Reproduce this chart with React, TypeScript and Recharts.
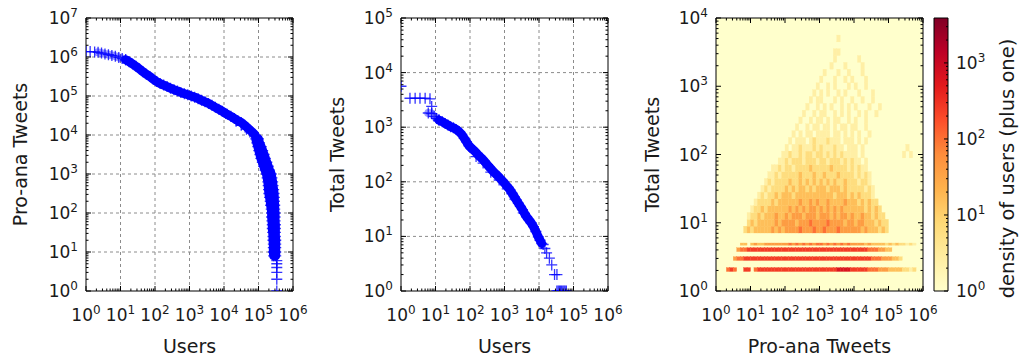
import React from "react";
import { ScatterChart, Scatter, XAxis, YAxis, CartesianGrid, ReferenceArea } from "recharts";

const FONT = "'DejaVu Sans', 'Liberation Sans', sans-serif";
const INK = "#1a1a1a";
const BLUE = "#0000ff";
const PLOT_W = 207;
const PLOT_H = 273;
const TITLE_SIZE = 19;

// ---------- left panel: users (ranked) vs pro-ana tweets ----------
const proAnaHead: [number, number][] = [[1, 1.38e6], [1.32, 1.38e6], [1.78, 1.35e6]];
// sparse start of the band, markers still see-through
const proAnaEarly: [number, number][] = [
    [2.24, 1.32e6], [2.82, 1.26e6], [3.55, 1.2e6], [4.47, 1.15e6], [5.62, 1.1e6],
    [7.08, 1.05e6], [8.91, 9.77e5], [11.2, 9.12e5], [14.1, 8.51e5],
];
const proAnaCurve: [number, number][] = [
    [14.1, 8.51e5], [17.8, 7.59e5],
    [22.4, 6.61e5], [28.2, 5.75e5], [35.5, 4.9e5], [44.7, 4.17e5], [56.2, 3.63e5],
    [70.8, 3.16e5], [89.1, 2.69e5], [112, 2.34e5], [141, 2.09e5], [178, 1.91e5],
    [224, 1.74e5], [282, 1.58e5], [355, 1.45e5], [447, 1.35e5], [562, 1.23e5],
    [708, 1.15e5], [891, 1.07e5], [1120, 1e5], [1410, 9.33e4], [1780, 8.51e4],
    [2240, 7.76e4], [2820, 7.08e4], [3550, 6.46e4], [4470, 5.75e4], [5620, 5.13e4],
    [7080, 4.57e4], [8910, 4.07e4], [11200, 3.55e4], [12600, 3.39e4], [15800, 3.02e4],
    [20000, 2.63e4], [25100, 2.34e4], [31600, 2.09e4], [39800, 1.78e4], [50100, 1.48e4],
    [63100, 1.23e4], [79400, 1e4],
];
const proAnaKneeSpread: [number, number][] = [
    [22400, 2.24e4], [31600, 1.78e4], [44700, 1.41e4], [56200, 1.2e4],
];
// steep tail: tweet level and the range of ranks the band covers there
const proAnaTailTweets = [7940, 6310, 5010, 3980, 3160, 2510, 2000, 1580, 1260, 1000, 794, 631, 501, 398, 316, 251, 200, 158, 126, 100, 79, 63, 50, 40, 32, 25, 20, 16, 13, 10, 8];
const proAnaTailRankLo = [83200, 89100, 95500, 102000, 110000, 117000, 129000, 141000, 155000, 170000, 178000, 186000, 191000, 195000, 200000, 209000, 219000, 224000, 234000, 240000, 240000, 245000, 251000, 251000, 257000, 263000, 263000, 269000, 269000, 269000, 275000];
const proAnaTailRankHi = [100000, 107000, 120000, 132000, 145000, 158000, 174000, 191000, 209000, 234000, 245000, 257000, 263000, 275000, 282000, 288000, 288000, 295000, 295000, 302000, 302000, 302000, 309000, 309000, 309000, 309000, 316000, 316000, 316000, 316000, 316000];
const proAnaLowest: [number, number][] = [
    [339000, 6], [339000, 5], [339000, 4], [339000, 3], [339000, 2], [339000, 1],
];

// ---------- middle panel: users (ranked) vs total tweets ----------
const totalHead: [number, number][] = [
    [1, 5620], [1.82, 3390], [2.57, 3390], [3.55, 3390], [5.01, 3390], [6.92, 3310], [7.76, 2400],
];
const totalEarly: [number, number][] = [
    [6.17, 1820], [7.76, 1780], [9.12, 1580], [10.7, 1450], [12.6, 1350],
];
const totalCurve: [number, number][] = [
    [12.6, 1350], [15.8, 1260],
    [19.1, 1170], [22.9, 1100], [27.5, 1020], [33.1, 977], [39.8, 912], [47.9, 832],
    [57.5, 741], [67.6, 631], [79.4, 537], [93.3, 457], [112, 407], [132, 372],
    [158, 331], [186, 295], [219, 269], [257, 240], [302, 214], [363, 186],
    [427, 166], [501, 148], [589, 135], [708, 120], [832, 107], [955, 97.7],
    [1100, 87.1], [1260, 79.4], [1450, 70.8], [1660, 61.7], [1910, 53.7], [2190, 46.8],
    [2510, 40.7], [2880, 35.5], [3310, 30.9], [3800, 26.3], [4370, 22.9], [5010, 20.4],
    [5890, 17.8], [6920, 15.1], [8130, 12.3], [9550, 9.77], [10700, 8.51], [12000, 7.41],
];
const totalSpread: [number, number][] = [
    [150, 290], [240, 220], [400, 150], [700, 108], [1200, 74], [2000, 48], [3500, 27],
];
const totalLowest: [number, number][] = [
    [13200, 7.1], [14800, 6], [16600, 5], [20000, 4], [23400, 3], [28200, 2], [33100, 2],
    [33000, 1], [36000, 1], [39000, 1], [42000, 1], [45000, 1], [49000, 1], [53000, 1], [57000, 1], [62000, 1],
];

// ---------- right panel: 2d histogram, pro-ana vs total tweets ----------
// columns are 0.1-decade bins of pro-ana tweets (10^0 .. 10^6, 60 bins)
// digit d = log10(users + 1) / 0.4, so 0 = empty, 9 = ~4000
const cloudRowStart = [8, 9, 9, 10, 11, 12, 13, 14, 15, 16, 18, 19, 20, 21, 22, 23, 24, 25, 26, 27, 28, 29, 30, 31, 33, 34, 34, 35, 35];
const cloudRowDensity = [
    "2323333 34343 4444544454 4544454444 44343 33232",
    "232333 33434 4443444544 4454444344 34433 32322",
    "122323 33433 4344434443 4443434434 33433 2322",
    "12232 33333 3434343443 4343434333 33323 232",
    "1222 23233 3333433434 3343333433 32323 22",
    "121 22323 3323333333 3333233323 23222 1",
    "12 12222 3232332323 3323332322 22212 1",
    "1 21222 2322323232 3232322322 21221",
    "11212 2222322232 2322232222 12121",
    "1121 2212222322 2223222212 1211",
    "11 2122212221 2212221212 1101",
    "1 1211212212 2121212111 101 00000000000 101",
    "1011211121 2111211011 101 000000000000 1",
    "101110121 1121110111 0101",
    "10101101 1110110101 01001",
    "1001011 0110101101 10010",
    "100101 1010110010 100100",
    "10010 1100101010 0101001",
    "1001 0101001010 10001001",
    "101 1000101001 0010010",
    "10 1010010100 010001",
    "1 0010100010 100100",
    "1000100101 00010",
    "100010010 0010",
    "1000100 0010",
    "1000000 1",
    "11",
    "",
    "1",
];
// cloud rows start at total = 10^0.85 and are 0.1 decade tall
const CLOUD_FIRST_ROW = 0.85;
// the thin bands of users with exactly 2, 3, 4, 5 total tweets
const stripeLow = [1.93, 2.8, 3.78, 4.68];
const stripeHigh = [2.2, 3.18, 4.3, 5.05];
const stripeStart = [3, 5, 6, 7];
const stripeDensity = [
    "565 00 66 0 566666666 6666666666 6666677776 66665554 44333 32212",
    "4 5566666 6666666 6666666666 6666666666 6666655 54443 32",
    "4556666 6666666 6666666666 6666666666 6666555 4433",
    "3303433 444444 4545454545 5454545454 4443433 3323232 2121",
];
const DENSITY_MAX = 3900;

// matplotlib YlOrRd
const YLORRD = ["#ffffcc", "#ffeda0", "#fed976", "#feb24c", "#fd8d3c", "#fc4e2a", "#e31a1c", "#bd0026", "#800026"];

function hex(c: string) {
    return [1, 3, 5].map((i) => parseInt(c.slice(i, i + 2), 16));
}
function ylorrd(t: number) {
    const s = Math.max(0, Math.min(1, t)) * 8;
    const i = Math.min(7, Math.floor(s));
    const f = s - i;
    const a = hex(YLORRD[i]);
    const b = hex(YLORRD[i + 1]);
    const m = a.map((v, k) => Math.round(v + (b[k] - v) * f));
    return `rgb(${m[0]},${m[1]},${m[2]})`;
}
const densityColor = (d: number) => ylorrd((d * 0.4) / Math.log10(DENSITY_MAX));

type Cell = { x: number; y: number; span: number; color: string };

function buildCells(): Cell[] {
    const out: Cell[] = [];
    const push = (start: number, row: string, yMid: number, span: number) => {
        [...row.replace(/ /g, "")].forEach((ch, k) => {
            const d = Number(ch);
            if (!d) return;
            const col = start + k;
            out.push({ x: 10 ** ((col + 0.5) / 10), y: yMid, span, color: densityColor(d) });
        });
    };
    cloudRowDensity.forEach((row, r) => {
        push(cloudRowStart[r], row, 10 ** (CLOUD_FIRST_ROW + 0.1 * r + 0.05), 0.1);
    });
    stripeDensity.forEach((row, i) => {
        push(stripeStart[i], row, Math.sqrt(stripeLow[i] * stripeHigh[i]), Math.log10(stripeHigh[i] / stripeLow[i]));
    });
    return out;
}

const toPts = (arr: [number, number][]) => arr.map(([x, y]) => ({ x, y }));

const proAnaTailLeft = proAnaTailTweets.map((y, i) => ({ x: proAnaTailRankLo[i], y }));
const proAnaTailRight = proAnaTailTweets.map((y, i) => ({ x: proAnaTailRankHi[i], y }));
const heatCells = buildCells();

// ---------- helpers ----------
function logTicks(maxExp: number, top = 10 ** maxExp) {
    const out: number[] = [];
    for (let e = 0; e <= maxExp; e++) {
        for (let m = 1; m <= 9; m++) {
            const v = m * 10 ** e;
            if (v <= top) out.push(v);
        }
    }
    return out;
}
const majors = (n: number) => Array.from({ length: n + 1 }, (_, i) => 10 ** i);
const isMajor = (v: number) => Math.abs(Math.log10(v) - Math.round(Math.log10(v))) < 1e-9;

function Pow10({ x, y, exp, anchor }: { x: number; y: number; exp: number; anchor: "start" | "middle" | "end" }) {
    return (
        <text x={x} y={y} textAnchor={anchor} fontSize={17} fill={INK} fontFamily={FONT}>
            10<tspan dy={-7} fontSize={12}>{exp}</tspan>
        </text>
    );
}

const xTick = (props: any) => {
    const { x, y, payload } = props;
    const v = payload.value;
    const major = isMajor(v);
    const len = major ? 5 : 2.5;
    return (
        <g>
            <line x1={x} x2={x} y1={y} y2={y - len} stroke="#000" />
            <line x1={x} x2={x} y1={y - PLOT_H} y2={y - PLOT_H + len} stroke="#000" />
            {major && <Pow10 x={x} y={y + 30} exp={Math.round(Math.log10(v))} anchor="middle" />}
        </g>
    );
};

const yTick = (props: any) => {
    const { x, y, payload } = props;
    const v = payload.value;
    const major = isMajor(v);
    const len = major ? 5 : 2.5;
    return (
        <g>
            <line x1={x} x2={x + len} y1={y} y2={y} stroke="#000" />
            <line x1={x + PLOT_W} x2={x + PLOT_W - len} y1={y} y2={y} stroke="#000" />
            {major && <Pow10 x={x - 8} y={y + 6} exp={Math.round(Math.log10(v))} anchor="end" />}
        </g>
    );
};

const barTick = (props: any) => {
    const { x, y, payload } = props;
    const v = payload.value;
    const major = isMajor(v);
    return (
        <g>
            <line x1={x} x2={x - (major ? 4 : 2)} y1={y} y2={y} stroke="#000" />
            {major && <Pow10 x={x + 8} y={y + 6} exp={Math.round(Math.log10(v))} anchor="start" />}
        </g>
    );
};

const plusShape = (props: any) => {
    const { cx, cy } = props;
    if (cx == null || cy == null) return <g />;
    return (
        <path
            d={`M${cx - 5.5},${cy}H${cx + 5.5}M${cx},${cy - 5.5}V${cy + 5.5}`}
            stroke={BLUE}
            strokeOpacity={0.8}
            strokeWidth={1.3}
            fill="none"
        />
    );
};

// the dense run of overlapping markers reads as a solid band
const band = { stroke: BLUE, strokeWidth: 9, strokeLinejoin: "round", strokeLinecap: "round" } as any;
const faintBand = { ...band, strokeOpacity: 0.4, strokeWidth: 8 } as any;

const cellShape = (props: any) => {
    const { cx, cy, payload } = props;
    const w = PLOT_W / 60;
    const h = payload.span * (PLOT_H / 4);
    return <rect x={cx - w / 2} y={cy - h / 2} width={w} height={h} fill={payload.color} stroke={payload.color} strokeWidth={0.3} />;
};

type PanelProps = {
    left: number;
    width: number;
    axisWidth: number;
    yExp: number;
    xTitle: string;
    yTitle: string;
    yTitleOffset: number;
    grid?: boolean;
    children?: React.ReactNode;
};

function LogPanel({ left, width, axisWidth, yExp, xTitle, yTitle, yTitleOffset, grid, children }: PanelProps) {
    const yMax = 10 ** yExp;
    return (
        <div style={{ position: "absolute", left, top: 0 }}>
            <ScatterChart width={width} height={359} margin={{ top: 18, right: width - axisWidth - PLOT_W, bottom: 0, left: 0 }}>
                {grid && (
                    <CartesianGrid
                        stroke="#8c8c8c"
                        strokeDasharray="3 3"
                        verticalValues={majors(6).slice(1, -1)}
                        horizontalValues={majors(yExp).slice(1, -1)}
                    />
                )}
                <XAxis
                    type="number"
                    dataKey="x"
                    scale="log"
                    domain={[1, 1e6]}
                    allowDataOverflow
                    ticks={logTicks(6)}
                    interval={0}
                    tick={xTick}
                    tickLine={false}
                    axisLine={false}
                    tickSize={0}
                    tickMargin={0}
                    height={68}
                    label={{ value: xTitle, position: "insideBottom", offset: 6, fontSize: TITLE_SIZE, fill: INK }}
                />
                <YAxis
                    type="number"
                    dataKey="y"
                    scale="log"
                    domain={[1, yMax]}
                    allowDataOverflow
                    ticks={logTicks(yExp)}
                    interval={0}
                    tick={yTick}
                    tickLine={false}
                    axisLine={false}
                    tickSize={0}
                    tickMargin={0}
                    width={axisWidth}
                    label={{
                        value: yTitle,
                        angle: -90,
                        position: "insideLeft",
                        offset: yTitleOffset,
                        fontSize: TITLE_SIZE,
                        fill: INK,
                        style: { textAnchor: "middle" },
                    }}
                />
                {children}
                <ReferenceArea x1={1} x2={1e6} y1={1} y2={yMax} fill="none" stroke="#000" strokeWidth={1} />
            </ScatterChart>
        </div>
    );
}

export default function App() {
    return (
        <div style={{ position: "absolute", left: 0, top: 0, width: 1021, height: 359, background: "#fff", fontFamily: FONT }}>
            <svg width={0} height={0} style={{ position: "absolute" }}>
                <defs>
                    <linearGradient id="ylorrd" x1="0" y1="1" x2="0" y2="0">
                        {YLORRD.map((c, i) => (
                            <stop key={c} offset={i / 8} stopColor={c} />
                        ))}
                    </linearGradient>
                </defs>
            </svg>

            <LogPanel left={0} width={310} axisWidth={86} yExp={7} xTitle="Users" yTitle="Pro-ana Tweets" yTitleOffset={20} grid>
                <Scatter data={toPts(proAnaHead)} shape={plusShape} isAnimationActive={false} />
                <Scatter data={toPts(proAnaEarly)} shape={plusShape} line={faintBand} isAnimationActive={false} />
                <Scatter data={toPts(proAnaCurve)} shape={plusShape} line={band} isAnimationActive={false} />
                <Scatter data={proAnaTailLeft} shape={plusShape} line={band} isAnimationActive={false} />
                <Scatter data={proAnaTailRight} shape={plusShape} line={band} isAnimationActive={false} />
                <Scatter data={toPts(proAnaKneeSpread)} shape={plusShape} isAnimationActive={false} />
                <Scatter data={toPts(proAnaLowest)} shape={plusShape} isAnimationActive={false} />
            </LogPanel>

            <LogPanel left={310} width={320} axisWidth={91} yExp={5} xTitle="Users" yTitle="Total Tweets" yTitleOffset={27} grid>
                <Scatter data={toPts(totalHead)} shape={plusShape} isAnimationActive={false} />
                <Scatter data={toPts(totalEarly)} shape={plusShape} line={faintBand} isAnimationActive={false} />
                <Scatter data={toPts(totalCurve)} shape={plusShape} line={band} isAnimationActive={false} />
                <Scatter data={toPts(totalSpread)} shape={plusShape} isAnimationActive={false} />
                <Scatter data={toPts(totalLowest)} shape={plusShape} isAnimationActive={false} />
            </LogPanel>

            <LogPanel left={630} width={330} axisWidth={86} yExp={4} xTitle="Pro-ana Tweets" yTitle="Total Tweets" yTitleOffset={22}>
                <ReferenceArea x1={1} x2={1e6} y1={1} y2={1e4} fill="#ffffcc" fillOpacity={1} />
                <Scatter data={heatCells} shape={cellShape} isAnimationActive={false} />
            </LogPanel>

            {/* colour bar */}
            <div style={{ position: "absolute", left: 925, top: 0 }}>
                <ScatterChart width={96} height={359} margin={{ top: 18, right: 0, bottom: 68, left: 9 }}>
                    <XAxis type="number" dataKey="x" domain={[0, 1]} allowDataOverflow hide />
                    <YAxis
                        type="number"
                        dataKey="y"
                        orientation="right"
                        scale="log"
                        domain={[1, DENSITY_MAX]}
                        allowDataOverflow
                        ticks={logTicks(3, DENSITY_MAX)}
                        interval={0}
                        tick={barTick}
                        tickLine={false}
                        axisLine={false}
                        tickSize={0}
                        tickMargin={0}
                        width={73}
                        label={{
                            value: "density of users (plus one)",
                            angle: -90,
                            position: "insideRight",
                            offset: 14,
                            dy: 14,
                            fontSize: 19.5,
                            fill: INK,
                            style: { textAnchor: "middle" },
                        }}
                    />
                    <ReferenceArea x1={0} x2={1} y1={1} y2={DENSITY_MAX} fill="url(#ylorrd)" fillOpacity={1} stroke="#000" strokeWidth={1} />
                </ScatterChart>
            </div>
        </div>
    );
}
